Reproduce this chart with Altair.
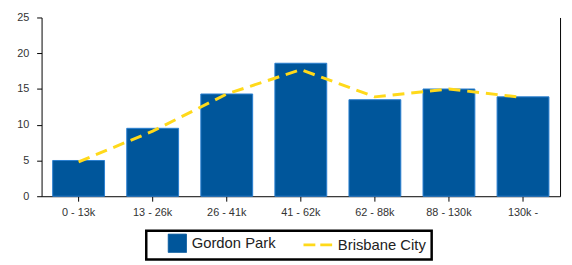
import altair as alt
import pandas as pd

categories = ["0 - 13k", "13 - 26k", "26 - 41k", "41 - 62k", "62 - 88k", "88 - 130k", "130k -"]
gordon_park = [5.0, 9.5, 14.3, 18.6, 13.5, 15.0, 13.9]
brisbane_city = [4.8, 9.1, 14.3, 17.7, 13.9, 15.0, 13.8]
series_names = ["Gordon Park", "Brisbane City"]
y_ticks = [0, 5, 10, 15, 20, 25]

bar_df = pd.DataFrame({"cat": categories, "value": gordon_park, "series": series_names[0]})
line_df = pd.DataFrame({"cat": categories, "value": brisbane_city, "series": series_names[1]})

BLUE = "#00569B"
YELLOW = "#FFD91A"
FONT = "Liberation Sans"

xenc = alt.X("cat:N", sort=categories, title=None,
             scale=alt.Scale(paddingInner=0.3, paddingOuter=0.15),
             axis=alt.Axis(labelAngle=0, domainColor="black", tickColor="black",
                           tickSize=5, labelPadding=6, labelFontSize=11,
                           labelColor="#333333", labelFont=FONT, grid=False))

legend = alt.Legend(
    orient="none", legendX=106, legendY=216, direction="horizontal", title=None,
    strokeColor="black", padding=5, fillColor="white",
    labelFont=FONT, labelFontSize=15, labelColor="#222222",
    symbolSize=340, labelOffset=7, columnPadding=21, symbolOffset=19,
    symbolType=alt.ExprRef(expr="datum.value == 'Brisbane City' ? 'M-2.2,0H1' : 'square'"),
    symbolDash=alt.ExprRef(expr="datum.value == 'Brisbane City' ? [12, 5] : [1, 0]"),
    symbolStrokeWidth=alt.ExprRef(expr="datum.value == 'Brisbane City' ? 3 : 1"),
    symbolStrokeColor=alt.ExprRef(expr="datum.value == 'Brisbane City' ? '#FFD91A' : '#2a7fd0'"),
    symbolOpacity=1,
)

color_scale = alt.Scale(domain=series_names, range=[BLUE, YELLOW])

bars = alt.Chart(bar_df).mark_bar(stroke="#2a7fd0", strokeWidth=1).encode(
    x=xenc,
    y=alt.Y("value:Q", title=None, scale=alt.Scale(domain=[0, 25]),
            axis=alt.Axis(values=y_ticks, grid=False, domainColor="black",
                          tickColor="black", tickSize=5, labelFontSize=11,
                          labelColor="#333333", labelFont=FONT, labelPadding=8)),
    color=alt.Color("series:N", scale=color_scale, legend=legend),
)

line = alt.Chart(line_df).mark_line(strokeDash=[12, 7], strokeWidth=3).encode(
    x=xenc,
    y=alt.Y("value:Q", title=None, scale=alt.Scale(domain=[0, 25]),
            axis=alt.Axis(orient="right", labels=False, ticks=False, grid=False,
                          domainColor="black")),
    color=alt.Color("series:N", scale=color_scale, legend=legend),
)

chart = alt.layer(bars, line).resolve_scale(y="independent").properties(
    width=525, height=181,
    autosize=alt.AutoSizeParams(type="none"),
    padding={"left": 34, "top": 8, "right": 4, "bottom": 66},
    background="white",
).configure_view(strokeWidth=0).configure_legend(strokeWidth=2.5)

chart.save("out.html", embed_options={"renderer": "svg", "actions": False})
